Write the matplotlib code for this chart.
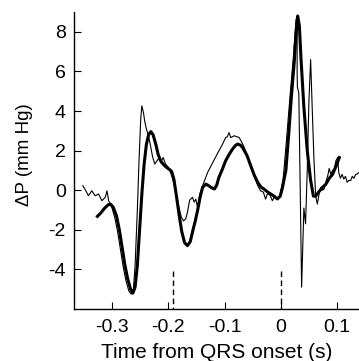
import matplotlib
matplotlib.use("Agg")
import matplotlib.pyplot as plt

# smoothed (thick) pressure trace
smooth_t = [-0.326, -0.320, -0.313, -0.307, -0.303, -0.298, -0.292, -0.287, -0.282, -0.277,
            -0.272, -0.267, -0.263, -0.259, -0.255, -0.251, -0.247, -0.243, -0.239, -0.235,
            -0.231, -0.227, -0.222, -0.218, -0.213, -0.208, -0.203, -0.198, -0.194, -0.190,
            -0.186, -0.181, -0.176, -0.171, -0.166, -0.161, -0.156, -0.152, -0.148, -0.143,
            -0.139, -0.133, -0.128, -0.124, -0.118, -0.114, -0.110, -0.104, -0.098, -0.092,
            -0.086, -0.081, -0.077, -0.072, -0.068, -0.060, -0.053, -0.047, -0.041, -0.035,
            -0.030, -0.024, -0.018, -0.012, -0.006, -0.001, 0.003, 0.009, 0.014, 0.019,
            0.024, 0.027, 0.030, 0.033, 0.036, 0.041, 0.047, 0.053, 0.058, 0.062,
            0.067, 0.074, 0.080, 0.086, 0.092, 0.098, 0.104]
smooth_p = [-1.32, -1.15, -0.90, -0.74, -0.70, -0.85, -1.30, -2.00, -2.90, -3.80,
            -4.50, -5.00, -5.20, -4.90, -3.80, -2.00, -0.20, 1.30, 2.30, 2.80,
            2.96, 2.80, 2.30, 1.80, 1.45, 1.28, 1.15, 1.05, 0.95, 0.55,
            -0.20, -1.20, -2.10, -2.65, -2.80, -2.60, -2.00, -1.55, -1.03, -0.30,
            0.14, 0.31, 0.22, 0.14, 0.06, 0.25, 0.65, 1.05, 1.49, 1.80,
            2.07, 2.25, 2.33, 2.28, 2.16, 1.75, 1.20, 0.75, 0.39, 0.15,
            0.06, -0.08, -0.19, -0.30, -0.44, -0.30, 0.14, 1.00, 2.80, 4.80,
            6.50, 7.90, 8.80, 8.30, 6.60, 4.20, 2.00, 0.50, -0.30, -0.30,
            -0.10, 0.14, 0.30, 0.60, 0.80, 1.20, 1.65]

# raw (thin) pressure trace
raw_t = [-0.352, -0.347, -0.342, -0.336, -0.330, -0.324, -0.318, -0.312, -0.309, -0.306,
         -0.300, -0.295, -0.290, -0.285, -0.280, -0.275, -0.270, -0.266, -0.262, -0.259,
         -0.255, -0.252, -0.249, -0.247, -0.244, -0.242, -0.239, -0.236, -0.232, -0.228,
         -0.224, -0.221, -0.218, -0.215, -0.212, -0.209, -0.205, -0.201, -0.197, -0.193,
         -0.188, -0.181, -0.177, -0.173, -0.169, -0.166, -0.162, -0.157, -0.154, -0.151,
         -0.148, -0.144, -0.139, -0.130, -0.120, -0.110, -0.104, -0.098, -0.095, -0.092,
         -0.089, -0.086, -0.083, -0.078, -0.074, -0.069, -0.065, -0.059, -0.053, -0.047,
         -0.041, -0.036, -0.031, -0.027, -0.024, -0.020, -0.015, -0.011, -0.006, -0.002,
         0.004, 0.010, 0.016, 0.022, 0.027, 0.029, 0.029, 0.0295, 0.032, 0.033,
         0.037, 0.041, 0.044, 0.047, 0.050, 0.053, 0.056, 0.059, 0.062, 0.065,
         0.068, 0.071, 0.074, 0.077, 0.081, 0.084, 0.086, 0.089, 0.092, 0.095,
         0.098, 0.101, 0.103, 0.106, 0.109, 0.112, 0.115, 0.118, 0.121, 0.124,
         0.127, 0.130, 0.133, 0.136, 0.139]
raw_p = [0.23, 0.00, -0.28, -0.03, -0.28, -0.19, -0.53, -0.36, -0.03, -0.53,
         -0.90, -1.40, -2.10, -3.00, -3.90, -4.60, -5.10, -5.25, -5.00, -3.80,
         -1.00, 1.50, 3.60, 4.26, 3.90, 3.50, 3.10, 2.83, 2.30, 1.70,
         1.32, 1.45, 1.57, 1.50, 1.49, 1.65, 1.32, 1.20, 0.98, 0.65,
         0.14, -0.87, -1.35, -1.55, -1.45, -1.12, -0.50, -0.36, -0.60, -0.45,
         -0.87, -0.20, 0.23, 0.90, 1.45, 1.99, 2.30, 2.66, 2.70, 2.91,
         2.66, 2.70, 2.75, 2.70, 2.66, 2.40, 2.16, 1.70, 1.15, 0.70,
         0.23, -0.03, -0.10, -0.45, -0.20, -0.20, -0.53, -0.30, -0.45, -0.30,
         0.50, 2.50, 4.60, 6.60, 8.60, 8.75, 6.00, 5.20, 4.90, 3.00,
         -4.90, -0.90, -1.70, 1.00, 4.50, 6.60, 4.00, 1.50, -0.30, -0.70,
         -0.20, 0.14, 0.00, 0.06, 0.50, 0.80, 1.10, 0.80, 1.00, 1.07,
         1.49, 1.65, 0.90, 0.60, 0.80, 0.56, 0.70, 0.40, 0.50, 0.48,
         0.70, 0.60, 0.80, 0.82, 0.90]

# dashed markers along the bottom
marker_t = [-0.192, 0.0]
marker_top = -4.1

x_ticks = [-0.3, -0.2, -0.1, 0.0, 0.1]
x_tick_labels = ['-0.3', '-0.2', '-0.1', '0', '0.1']
y_ticks = [-4, -2, 0, 2, 4, 6, 8]
y_tick_labels = ['-4', '-2', '0', '2', '4', '6', '8']

plt.rcParams['font.family'] = ['Liberation Sans', 'DejaVu Sans']

fig = plt.figure(figsize=(3.59, 3.61), dpi=100)
ax = fig.add_axes([74 / 359, 1 - 309 / 361, 285 / 359, 297 / 361])

ax.plot(raw_t, raw_p, color='black', lw=0.8)
ax.plot(smooth_t, smooth_p, color='black', lw=2.2)

for t in marker_t:
    ax.plot([t, t], [marker_top, -6], color='black', lw=1.0, linestyle=(0, (4, 2.5)))

ax.set_xlim(-0.3676, 0.139)
ax.set_ylim(-6, 9)

ax.spines['top'].set_visible(False)
ax.spines['right'].set_visible(False)
ax.spines['left'].set_linewidth(1.0)
ax.spines['bottom'].set_linewidth(1.0)

ax.set_xticks(x_ticks)
ax.set_xticklabels(x_tick_labels)
ax.set_yticks(y_ticks)
ax.set_yticklabels(y_tick_labels)
ax.tick_params(direction='in', length=5, width=0.8, labelsize=14)
ax.tick_params(axis='x', pad=7)
ax.tick_params(axis='y', pad=6)

ax.set_xlabel('Time from QRS onset (s)', fontsize=15, labelpad=5)
ax.set_ylabel('ΔP (mm Hg)', fontsize=13.5)
ax.yaxis.set_label_coords(-0.145, 0.52)

plt.savefig('out.png', dpi=100)
